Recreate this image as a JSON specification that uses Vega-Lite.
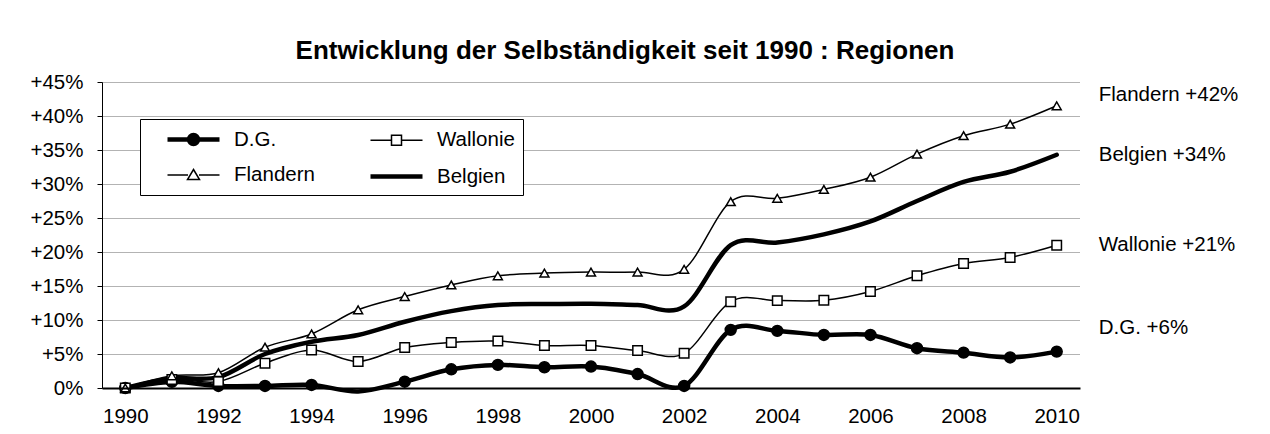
{
  "$schema": "https://vega.github.io/schema/vega-lite/v6.json",
  "width": 978,
  "height": 306,
  "autosize": {"type": "none"},
  "padding": {"left": 102, "top": 82, "right": 190, "bottom": 46},
  "background": "white",
  "title": {
    "text": "Entwicklung der Selbständigkeit seit 1990 : Regionen",
    "font": "Liberation Sans",
    "fontSize": 26,
    "fontWeight": "bold",
    "color": "black",
    "anchor": "middle",
    "dx": 34,
    "dy": 24,
    "baseline": "alphabetic",
    "offset": 11
  },
  "config": {"view": {"stroke": null}, "font": "Liberation Sans"},
  "datasets": {
    "series": [
      {"year": 1990, "series": "D.G.", "value": 0},
      {"year": 1991, "series": "D.G.", "value": 0.9},
      {"year": 1992, "series": "D.G.", "value": 0.3},
      {"year": 1993, "series": "D.G.", "value": 0.3},
      {"year": 1994, "series": "D.G.", "value": 0.45},
      {"year": 1995, "series": "D.G.", "value": -0.5},
      {"year": 1996, "series": "D.G.", "value": 0.93},
      {"year": 1997, "series": "D.G.", "value": 2.75},
      {"year": 1998, "series": "D.G.", "value": 3.4},
      {"year": 1999, "series": "D.G.", "value": 3.05},
      {"year": 2000, "series": "D.G.", "value": 3.15},
      {"year": 2001, "series": "D.G.", "value": 2.05},
      {"year": 2002, "series": "D.G.", "value": 0.3},
      {"year": 2003, "series": "D.G.", "value": 8.55},
      {"year": 2004, "series": "D.G.", "value": 8.4},
      {"year": 2005, "series": "D.G.", "value": 7.8},
      {"year": 2006, "series": "D.G.", "value": 7.8},
      {"year": 2007, "series": "D.G.", "value": 5.85},
      {"year": 2008, "series": "D.G.", "value": 5.2},
      {"year": 2009, "series": "D.G.", "value": 4.5},
      {"year": 2010, "series": "D.G.", "value": 5.35},
      {"year": 1990, "series": "Wallonie", "value": 0},
      {"year": 1991, "series": "Wallonie", "value": 1.25},
      {"year": 1992, "series": "Wallonie", "value": 0.95},
      {"year": 1993, "series": "Wallonie", "value": 3.65},
      {"year": 1994, "series": "Wallonie", "value": 5.6},
      {"year": 1995, "series": "Wallonie", "value": 3.9},
      {"year": 1996, "series": "Wallonie", "value": 5.95},
      {"year": 1997, "series": "Wallonie", "value": 6.7},
      {"year": 1998, "series": "Wallonie", "value": 6.9},
      {"year": 1999, "series": "Wallonie", "value": 6.25},
      {"year": 2000, "series": "Wallonie", "value": 6.25},
      {"year": 2001, "series": "Wallonie", "value": 5.5},
      {"year": 2002, "series": "Wallonie", "value": 5.1},
      {"year": 2003, "series": "Wallonie", "value": 12.7},
      {"year": 2004, "series": "Wallonie", "value": 12.85},
      {"year": 2005, "series": "Wallonie", "value": 12.9},
      {"year": 2006, "series": "Wallonie", "value": 14.2},
      {"year": 2007, "series": "Wallonie", "value": 16.5},
      {"year": 2008, "series": "Wallonie", "value": 18.3},
      {"year": 2009, "series": "Wallonie", "value": 19.2},
      {"year": 2010, "series": "Wallonie", "value": 21.0},
      {"year": 1990, "series": "Flandern", "value": 0},
      {"year": 1991, "series": "Flandern", "value": 1.8},
      {"year": 1992, "series": "Flandern", "value": 2.25},
      {"year": 1993, "series": "Flandern", "value": 6.0},
      {"year": 1994, "series": "Flandern", "value": 7.95},
      {"year": 1995, "series": "Flandern", "value": 11.5},
      {"year": 1996, "series": "Flandern", "value": 13.45},
      {"year": 1997, "series": "Flandern", "value": 15.15},
      {"year": 1998, "series": "Flandern", "value": 16.5},
      {"year": 1999, "series": "Flandern", "value": 16.9},
      {"year": 2000, "series": "Flandern", "value": 17.05},
      {"year": 2001, "series": "Flandern", "value": 17.05},
      {"year": 2002, "series": "Flandern", "value": 17.45},
      {"year": 2003, "series": "Flandern", "value": 27.4},
      {"year": 2004, "series": "Flandern", "value": 27.9},
      {"year": 2005, "series": "Flandern", "value": 29.2},
      {"year": 2006, "series": "Flandern", "value": 31.0},
      {"year": 2007, "series": "Flandern", "value": 34.4},
      {"year": 2008, "series": "Flandern", "value": 37.1},
      {"year": 2009, "series": "Flandern", "value": 38.8},
      {"year": 2010, "series": "Flandern", "value": 41.5},
      {"year": 1990, "series": "Belgien", "value": 0},
      {"year": 1991, "series": "Belgien", "value": 1.4},
      {"year": 1992, "series": "Belgien", "value": 1.6},
      {"year": 1993, "series": "Belgien", "value": 5.0},
      {"year": 1994, "series": "Belgien", "value": 6.8},
      {"year": 1995, "series": "Belgien", "value": 7.8},
      {"year": 1996, "series": "Belgien", "value": 9.75},
      {"year": 1997, "series": "Belgien", "value": 11.3},
      {"year": 1998, "series": "Belgien", "value": 12.2},
      {"year": 1999, "series": "Belgien", "value": 12.35},
      {"year": 2000, "series": "Belgien", "value": 12.4},
      {"year": 2001, "series": "Belgien", "value": 12.2},
      {"year": 2002, "series": "Belgien", "value": 12.0},
      {"year": 2003, "series": "Belgien", "value": 21.0},
      {"year": 2004, "series": "Belgien", "value": 21.4},
      {"year": 2005, "series": "Belgien", "value": 22.6},
      {"year": 2006, "series": "Belgien", "value": 24.5},
      {"year": 2007, "series": "Belgien", "value": 27.5},
      {"year": 2008, "series": "Belgien", "value": 30.3},
      {"year": 2009, "series": "Belgien", "value": 31.8},
      {"year": 2010, "series": "Belgien", "value": 34.3}
    ],
    "labels": [
      {"year": 2010, "value": 43.1, "label": "Flandern +42%"},
      {"year": 2010, "value": 34.3, "label": "Belgien +34%"},
      {"year": 2010, "value": 21.0, "label": "Wallonie +21%"},
      {"year": 2010, "value": 8.8, "label": "D.G. +6%"}
    ]
  },
  "data": {"name": "series"},
  "encoding": {
    "x": {
      "field": "year",
      "type": "quantitative",
      "scale": {"domain": [1989.5, 2010.5], "nice": false, "zero": false},
      "axis": {
        "values": [1990, 1992, 1994, 1996, 1998, 2000, 2002, 2004, 2006, 2008, 2010],
        "format": "d",
        "title": null,
        "grid": false,
        "ticks": false,
        "tickSize": 0,
        "domainColor": "black",
        "domainWidth": 2,
        "labelFont": "Liberation Sans",
        "labelFontSize": 20.5,
        "labelColor": "black",
        "labelPadding": 18,
        "labelFlush": false,
        "labelOverlap": false,
        "zindex": 1
      }
    },
    "y": {
      "field": "value",
      "type": "quantitative",
      "scale": {"domain": [0, 45], "nice": false},
      "axis": {
        "values": [0, 5, 10, 15, 20, 25, 30, 35, 40, 45],
        "labelExpr": "datum.value === 0 ? '0%' : '+' + datum.value + '%'",
        "title": null,
        "grid": true,
        "gridColor": "#666666",
        "gridDash": [1, 1],
        "gridWidth": 1,
        "domainColor": "black",
        "domainWidth": 1,
        "tickColor": "black",
        "tickSize": 5,
        "labelPadding": 14,
        "labelFont": "Liberation Sans",
        "labelFontSize": 20.5,
        "labelColor": "black",
        "labelOverlap": false
      }
    }
  },
  "layer": [
    {
      "mark": {"type": "line", "interpolate": "cardinal", "strokeCap": "round", "strokeJoin": "round"},
      "encoding": {
        "color": {
          "field": "series",
          "type": "nominal",
          "scale": {"domain": ["D.G.", "Flandern", "Wallonie", "Belgien"], "range": ["black", "black", "black", "black"]},
          "legend": {
            "orient": "none",
            "legendX": 38,
            "legendY": 37,
            "columns": 2,
            "title": null,
            "labelFont": "Liberation Sans",
            "labelFontSize": 20.5,
            "labelColor": "black",
            "symbolSize": 400,
            "symbolOffset": 33,
            "labelOffset": 28,
            "rowPadding": 11,
            "columnPadding": 36,
            "padding": 8,
            "strokeColor": "black",
            "fillColor": "white",
            "encode": {
              "symbols": {
                "update": {
                  "shape": {"signal": "datum.value === 'D.G.' ? 'M-2.6,0H2.6M0.45,0A0.45,0.45,0,1,1,-0.45,0A0.45,0.45,0,1,1,0.45,0Z' : datum.value === 'Wallonie' ? 'M-2.6,0H-0.5M0.5,0H2.6M-0.5,-0.5H0.5V0.5H-0.5Z' : datum.value === 'Flandern' ? 'M-2.6,0H-0.55M0.55,0H2.6M0,-0.55L0.6,0.45L-0.6,0.45Z' : 'M-2.6,0H2.6'"},
                  "fill": {"signal": "datum.value === 'D.G.' ? 'black' : 'white'"},
                  "stroke": {"value": "black"},
                  "strokeWidth": {"signal": "(datum.value === 'D.G.' || datum.value === 'Belgien') ? 4.5 : 1.5"},
                  "opacity": {"value": 1}
                }
              }
            }
          }
        },
        "strokeWidth": {
          "field": "series",
          "type": "nominal",
          "scale": {"type": "ordinal", "domain": ["D.G.", "Flandern", "Wallonie", "Belgien"], "range": [4.5, 1.5, 1.5, 4.5]},
          "legend": null
        }
      }
    },
    {
      "transform": [{"filter": "datum.series !== 'Belgien' && datum.value >= 0"}],
      "mark": {"type": "point", "filled": true, "stroke": "black", "strokeWidth": 1.5, "opacity": 1},
      "encoding": {
        "shape": {
          "field": "series",
          "type": "nominal",
          "scale": {"domain": ["D.G.", "Wallonie", "Flandern"], "range": ["circle", "square", "triangle-up"]},
          "legend": null
        },
        "fill": {
          "field": "series",
          "type": "nominal",
          "scale": {"domain": ["D.G.", "Wallonie", "Flandern"], "range": ["black", "white", "white"]},
          "legend": null
        },
        "size": {
          "field": "series",
          "type": "nominal",
          "scale": {"type": "ordinal", "domain": ["D.G.", "Wallonie", "Flandern"], "range": [120, 90, 80]},
          "legend": null
        }
      }
    },
    {
      "data": {"name": "labels"},
      "mark": {"type": "text", "align": "left", "baseline": "middle", "dx": 42, "font": "Liberation Sans", "fontSize": 20.5, "color": "black"},
      "encoding": {"text": {"field": "label", "type": "nominal"}}
    }
  ]
}
